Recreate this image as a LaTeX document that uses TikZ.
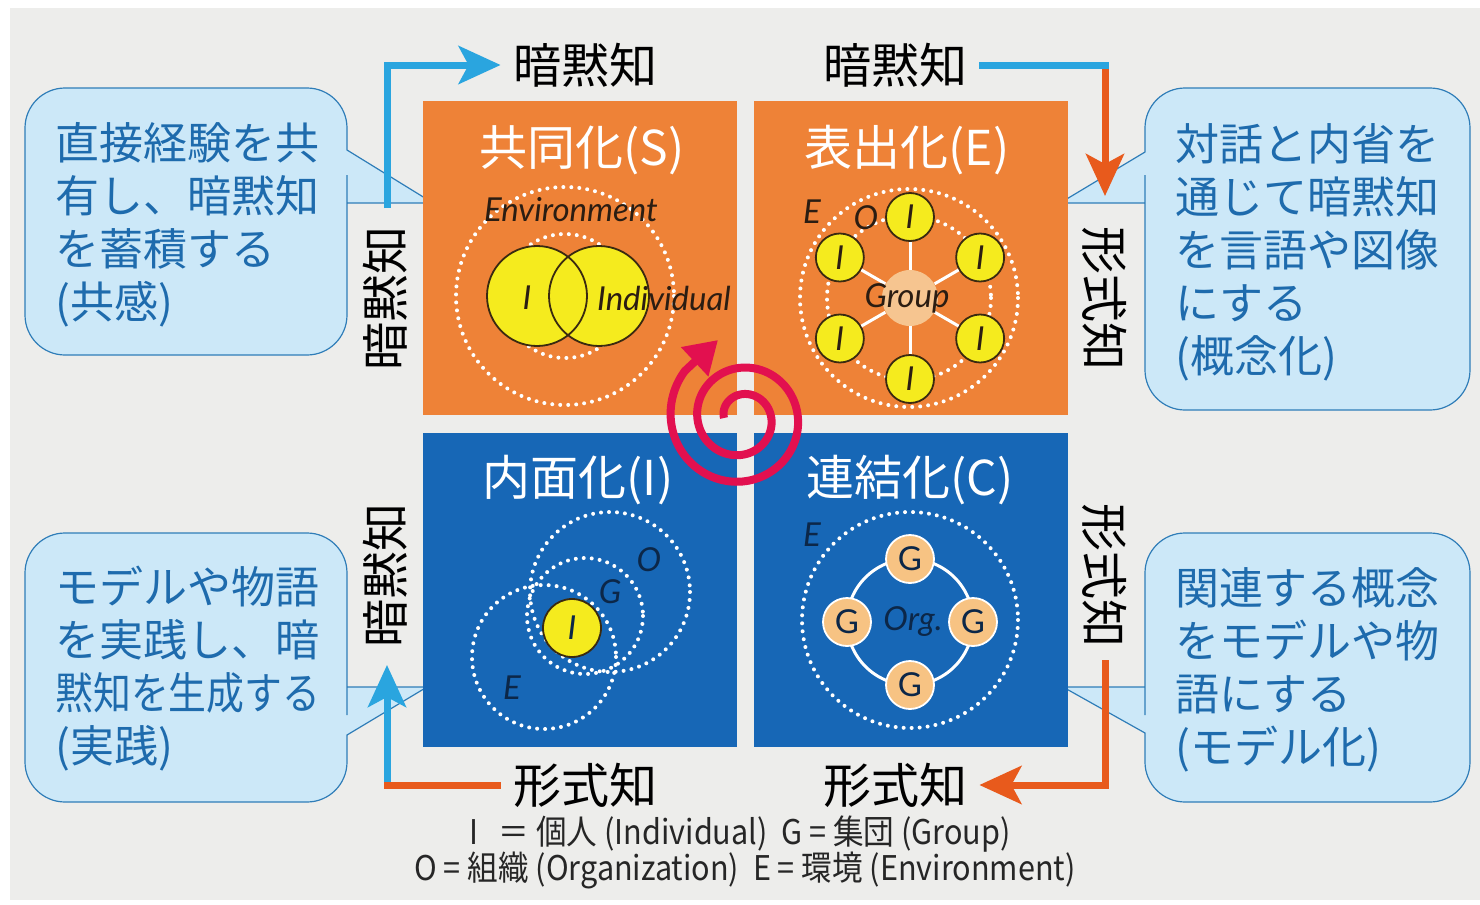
\documentclass[tikz,border=0pt]{standalone}
\usepackage{fontspec}
\usepackage{graphicx}
\setmainfont{Noto Sans CJK JP}
\newfontfamily\lato{Lato}
\usetikzlibrary{arrows.meta}

\definecolor{bg}{HTML}{EDEDEB}
\definecolor{qorange}{HTML}{EE8237}
\definecolor{qblue}{HTML}{1767B6}
\definecolor{arrblue}{HTML}{2AA5DF}
\definecolor{arrorange}{HTML}{E85A1C}
\definecolor{bubble}{HTML}{CCE8F8}
\definecolor{bubbleedge}{HTML}{2F7DB8}
\definecolor{bubbletext}{HTML}{1E6BAD}
\definecolor{spiralred}{HTML}{E2104F}
\definecolor{yel}{HTML}{F5EB1E}
\definecolor{ybrd}{HTML}{3A2A10}
\definecolor{peach}{HTML}{F7C383}
\definecolor{peachlt}{HTML}{F6C590}
\definecolor{darkbrown}{HTML}{2B1D12}
\definecolor{navy}{HTML}{0C2748}

\begin{document}
\begin{tikzpicture}[x=0.5pt,y=-0.5pt,
  quad/.style={minimum width=157pt,minimum height=157pt,inner sep=0pt,draw=none},
  ttl/.style={text=white,font=\fontsize{24}{24}\selectfont,inner sep=0pt},
  kn/.style={font=\fontsize{24}{24}\selectfont,text=black,inner sep=6pt},
  bub/.style={fill=bubble,draw=bubbleedge,line width=0.6pt},
  btxt/.style={text=bubbletext,align=left,font=\fontsize{22}{26.5}\selectfont,anchor=west,inner sep=0pt},
  dotc/.style={white,line width=2pt,dash pattern=on 0pt off 4pt,line cap=round},
  ycirc/.style={circle,fill=yel,draw=ybrd,line width=0.9pt,inner sep=0pt},
  gcirc/.style={circle,fill=peach,draw=white,line width=0.9pt,inner sep=0pt,minimum size=24pt},
  lab/.style={font=\lato\itshape\fontsize{16.5}{16.5}\selectfont,inner sep=0pt},
  arrB/.style={draw=arrblue,line width=3.5pt},
  arrO/.style={draw=arrorange,line width=3.5pt},
  arrhead/.style={-{Stealth[length=21pt,width=19pt,inset=5pt]}},
  legend/.style={font=\fontsize{17}{17}\selectfont,text=black!85,inner sep=0pt}
]
\useasboundingbox (0,0) rectangle (1480,905);
\fill[white] (0,0) rectangle (1480,905);
\fill[bg] (10,8) rectangle (1480,900);

% ---- speech bubbles ----
\draw[bub] (433,203) -- (347,150) -- (347,140) [rounded corners=20pt] -- (347,88) -- (25,88) -- (25,355) -- (347,355) -- (347,215) [sharp corners] -- (347,203) -- cycle;
\draw[bub] (1060,203) -- (1145,152) -- (1145,142) [rounded corners=20pt] -- (1145,88) -- (1470,88) -- (1470,410) -- (1145,410) -- (1145,215) [sharp corners] -- (1145,203) -- cycle;
\draw[bub] (427,687) -- (347,735) -- (347,745) [rounded corners=20pt] -- (347,802) -- (25,802) -- (25,533) -- (347,533) -- (347,675) [sharp corners] -- (347,687) -- cycle;
\draw[bub] (1063,687) -- (1145,733) -- (1145,745) [rounded corners=20pt] -- (1145,802) -- (1470,802) -- (1470,533) -- (1145,533) -- (1145,675) [sharp corners] -- (1145,687) -- cycle;

\node[btxt] (b1) at (55,225) {直接経験を共\\有し、暗黙知\\を蓄積する\\(共感)};
\node[btxt] (b2) at (1175,252) {対話と内省を\\通じて暗黙知\\を言語や図像\\にする\\(概念化)};
\node[btxt] (b3) at (55,669) {モデルや物語\\を実践し、暗\\\scalebox{0.86}[1]{黙知を生成する}\\(実践)};
\node[btxt] (b4) at (1175,670) {関連する概念\\をモデルや物\\語にする\\(モデル化)};

% ---- four quadrants ----
\node[quad,fill=qorange] (S) at (580,258) {};
\node[quad,fill=qorange] (E) at (911,258) {};
\node[quad,fill=qblue]   (I) at (580,590) {};
\node[quad,fill=qblue]   (C) at (911,590) {};

\node[ttl] (tS) at (582,150) {共同化(S)};
\node[ttl] (tE) at (907,150) {表出化(E)};
\node[ttl] (tI) at (578,480) {内面化(I)};
\node[ttl] (tC) at (910,480) {連結化(C)};

% ---- socialisation: two individuals sharing an environment ----
\draw[dotc] (565,296) circle[radius=109];
\draw[dotc] (565,296) circle[radius=62];
\fill[yel] (537,296) circle[radius=50];
\fill[yel] (599,296) circle[radius=50];
\node[circle,draw=ybrd,line width=0.9pt,minimum size=50pt,inner sep=0pt] (s1) at (537,296) {};
\node[circle,draw=ybrd,line width=0.9pt,minimum size=50pt,inner sep=0pt] (s2) at (599,296) {};
\node[lab,text=darkbrown] (envS) at (571,210) {Environment};
\node[lab,text=darkbrown] (iS) at (527,298) {I};
\node[lab,text=darkbrown] (indS) at (664,298) {Individual};

% ---- externalisation: individuals around a group ----
\draw[dotc] (909,298) circle[radius=109];
\draw[dotc] (909,298) circle[radius=82];
\node[circle,fill=peachlt,inner sep=0pt,minimum size=28pt] (grp) at (910,298) {};
\foreach \a [count=\k] in {90,30,-30,-90,-150,150}{
  \node[ycirc,minimum size=24pt] (e\k) at ({910+81*cos(\a)},{298-81*sin(\a)}) {};
  \draw[white,line width=1.5pt] (grp) -- (e\k);
  \node[lab,text=darkbrown] at (e\k) {I};
}
\node[lab,text=darkbrown] (grpL) at (907,298) {Group};
\node[lab,text=darkbrown] (eE) at (812,212) {E};
\node[lab,text=darkbrown] (oE) at (866,218) {O};

% ---- internalisation: individual inside group, organisation, environment ----
\draw[dotc] (610,592) circle[radius=80];
\draw[dotc] (585,616) circle[radius=58];
\draw[dotc] (544,657) circle[radius=72];
\node[ycirc,minimum size=29pt] (iI) at (572,628) {};
\node[lab,text=navy] at (iI) {I};
\node[lab,text=navy] (oI) at (649,560) {O};
\node[lab,text=navy] (gI) at (610,592) {G};
\node[lab,text=navy] (eI) at (512,688) {E};

% ---- combination: groups linked into an organisation ----
\draw[dotc] (910,620) circle[radius=108];
\draw[white,line width=1.5pt] (910,622) circle[radius=63];
\node[gcirc] (g1) at (910,559) {};
\node[gcirc] (g2) at (847,622) {};
\node[gcirc] (g3) at (973,622) {};
\node[gcirc] (g4) at (910,685) {};
\foreach \g in {g1,g2,g3,g4}{
  \node[font=\lato\fontsize{16.5}{16.5}\selectfont,text=navy,inner sep=0pt] at (\g) {G};
}
\node[lab,text=navy] (org) at (913,622) {Org.};
\node[lab,text=navy] (eC) at (812,535) {E};

% ---- spiral of knowledge creation ----
\coordinate (sptip) at (718,340);
\draw[spiralred,line width=4pt,-{Triangle[length=16pt,width=19pt]}]
  plot[domain=180:940,samples=250,smooth]
  ({741+(17+0.074*(\x-180))*cos(\x)},{418+(17+0.074*(\x-180))*sin(\x)})
  -- (sptip);

% ---- knowledge labels ----
\node[kn] (k1) at (585,65) {暗黙知};
\node[kn] (k2) at (895,65) {暗黙知};
\node[kn] (k3) at (585,785) {形式知};
\node[kn] (k4) at (895,785) {形式知};
\node[kn,rotate=90] (v1) at (385,298) {暗黙知};
\node[kn,rotate=90] (v2) at (385,575) {暗黙知};
\node[kn,rotate=-90] (v3) at (1105,298) {形式知};
\node[kn,rotate=-90] (v4) at (1105,575) {形式知};

\coordinate (a1) at (387,208);
\coordinate (a2) at (1105,65);
\coordinate (a3) at (1105,196);
\coordinate (a4) at (387,785);
\coordinate (a5) at (387,665);
\coordinate (a6) at (1105,660);

\draw[arrB,arrhead] (a1) |- (k1.west);
\draw[arrO,arrhead] (a2) -- (a3);
\draw[arrB] (k2.east) -- ([xshift=1.75pt]a2);
\draw[arrB,arrhead] ([yshift=-1pt]a4) -- (a5);
\draw[arrO] (k3.west) -- ([xshift=-1.75pt]a4);
\draw[arrO,arrhead] (a6) |- (k4.east);

% ---- legend ----
\node[legend] (l1) at (740,834) {\scalebox{0.9}[1]{I \ \ ＝ 個人 (Individual)\ \ G = 集団 (Group)}};
\node[legend] (l2) at (745,870) {\scalebox{0.9}[1]{O = 組織 (Organization)\ \ E = 環境 (Environment)}};
\end{tikzpicture}
\end{document}
